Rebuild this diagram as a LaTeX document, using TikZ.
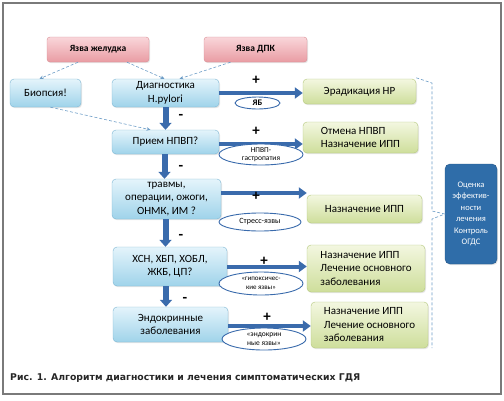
\documentclass[tikz,border=0pt]{standalone}
\usepackage{fontspec}
\setmainfont{Carlito}
\newfontfamily\capfont{DejaVu Sans}
\usetikzlibrary{arrows.meta,shapes.geometric,shadows}

\definecolor{pinktop}{HTML}{F9D6DA}
\definecolor{pinkbot}{HTML}{E99CA3}
\definecolor{pinkline}{HTML}{D88E95}
\definecolor{bluetop}{HTML}{E4F4FB}
\definecolor{bluebot}{HTML}{9FD3EA}
\definecolor{blueline}{HTML}{7DB6D3}
\definecolor{greentop}{HTML}{F3F7E0}
\definecolor{greenbot}{HTML}{CEDE9B}
\definecolor{greenline}{HTML}{B3C77C}
\definecolor{ctrlblue}{HTML}{2F6DA9}
\definecolor{arrowblue}{HTML}{3A6BAC}
\definecolor{linkblue}{HTML}{6C9CC6}
\definecolor{framegray}{HTML}{7A7A7A}

\begin{document}
\begin{tikzpicture}[x=1pt,y=-1pt]
	\tikzstyle{every node}=[align=center, inner sep=1pt, font=\fontsize{11}{13.5}\selectfont]
	\tikzstyle{soft}=[drop shadow={opacity=0.2, shadow xshift=1pt, shadow yshift=-1.2pt}]
	\tikzstyle{pinkbox}=[soft, draw=pinkline, top color=pinktop, bottom color=pinkbot, rounded corners=3pt, minimum height=25, font=\bfseries\fontsize{9.5}{11}\selectfont]
	\tikzstyle{bluebox}=[soft, draw=blueline, top color=bluetop, bottom color=bluebot, rounded corners=4pt]
	\tikzstyle{greenbox}=[soft, draw=greenline, top color=greentop, bottom color=greenbot, rounded corners=4pt, align=left]
	\tikzstyle{oval}=[ellipse, draw=arrowblue, line width=0.9pt, fill=white, inner sep=0pt, font=\fontsize{7.5}{8.5}\selectfont]
	\tikzstyle{sign}=[font=\bfseries\fontsize{15}{15}\selectfont]
	\tikzstyle{bigarrow}=[draw=arrowblue, line width=4pt, -{Triangle[length=8pt,width=11pt]}]
	\tikzstyle{downarrow}=[draw=arrowblue, line width=6pt, -{Triangle[length=7pt,width=12pt]}]
	\tikzstyle{link}=[draw=linkblue, densely dashed, line width=0.6pt, -{Stealth[length=4pt,width=3.5pt]}]
	\useasboundingbox (0,0) rectangle (504,400);
	\draw[framegray, line width=1.2pt] (3,3) rectangle (501,394);
	% top row
	\node (ug) at (98,49.5) [pinkbox, minimum width=102] {Язва желудка};
	\node (ud) at (255.5,49.5) [pinkbox, minimum width=103] {Язва ДПК};
	\node (bio) at (45.5,93) [bluebox, minimum width=71, minimum height=28] {Биопсия!};
	\node (diag) at (165.5,93) [bluebox, minimum width=107, minimum height=28] {Диагностика\\H.pylori};
	% left column
	\node (nsaid) at (165.5,142) [bluebox, minimum width=107, minimum height=24] {Прием НПВП?};
	\node (trauma) at (166.5,199) [bluebox, minimum width=109, minimum height=40] {травмы,\\операции, ожоги,\\ОНМК, ИМ ?};
	\node (chron) at (170,266.5) [bluebox, minimum width=114, minimum height=39] {ХСН, ХБП, ХОБЛ,\\ЖКБ, ЦП?};
	\node (endo) at (170.5,324.5) [bluebox, minimum width=115, minimum height=35] {Эндокринные\\заболевания};
	% right column
	\node (erad) at (359.5,91.5) [greenbox, minimum width=113, minimum height=25, align=center] {Эрадикация HP};
	\node (stop) at (360.5,137.5) [greenbox, minimum width=115, minimum height=31] {Отмена НПВП\\Назначение ИПП};
	\node (ppi1) at (364.5,209) [greenbox, minimum width=115, minimum height=28, align=center] {Назначение ИПП};
	\node (ppi2) at (366,268.5) [greenbox, minimum width=118, minimum height=47] {Назначение ИПП\\Лечение основного\\заболевания};
	\node (ppi3) at (369.5,325) [greenbox, minimum width=117, minimum height=46] {Назначение ИПП\\Лечение основного\\заболевания};
	\node (ctrl) at (471,214) [soft, fill=ctrlblue, draw=ctrlblue!80!black, rounded corners=5pt, minimum width=52, minimum height=100, text=white, font=\fontsize{8.5}{11.5}\selectfont] {Оценка\\эффектив-\\ности\\лечения\\Контроль\\ОГДС};
	% thin links
	\draw[link] ([xshift=-20]ug.south) -- ([xshift=-6]bio.north);
	\draw[link] ([xshift=29]ug.south) -- ([xshift=-1]diag.north);
	\draw[link] ([xshift=-25]ud.south) -- ([xshift=14]diag.north);
	\draw[link] ([xshift=5]bio.south) -- ([xshift=-15]nsaid.north);
	% horizontal arrows
	\draw[bigarrow] (diag.east) -- (diag.east -| erad.west);
	\draw[bigarrow] ([yshift=-2]nsaid.east) -- ([yshift=-2]nsaid.east -| stop.west);
	\draw[bigarrow] ([yshift=6]trauma.east) -- ([yshift=6]trauma.east -| ppi1.west);
	\draw[bigarrow] (chron.east) -- (chron.east -| ppi2.west);
	\draw[bigarrow] ([yshift=-1.5]endo.east) -- ([yshift=-1.5]endo.east -| ppi3.west);
	% down arrows
	\draw[downarrow] (diag.south) -- (diag.south |- nsaid.north);
	\draw[downarrow] ([xshift=-1]nsaid.south) -- ([xshift=-1]nsaid.south |- trauma.north);
	\draw[downarrow] ([xshift=-1]trauma.south) -- ([xshift=-1]trauma.south |- chron.north);
	\draw[downarrow] ([xshift=-4]chron.south) -- ([xshift=-4]chron.south |- endo.north);
	% ovals
	\node (o1) at (257.5,103) [oval, minimum width=45, minimum height=12, font=\bfseries\fontsize{8.5}{9}\selectfont] {ЯБ};
	\node (o2) at (261,154.5) [oval, minimum width=84, minimum height=21] {НПВП-\\гастропатия};
	\node (o3) at (260,222) [oval, minimum width=82, minimum height=18, font=\fontsize{8}{9}\selectfont] {Стресс-язвы};
	\node (o4) at (261,283.5) [oval, minimum width=84, minimum height=23, font=\fontsize{7}{8.5}\selectfont] {«гипоксичес-\\кие язвы»};
	\node (o5) at (264,339) [oval, minimum width=84, minimum height=22] {«эндокрин\\ные язвы»};
	% signs
	\node (p1) at (256,80) [sign] {+};
	\node (p2) at (256,131) [sign] {+};
	\node (p3) at (256,196) [sign] {+};
	\node (p4) at (264,261) [sign] {+};
	\node (p5) at (267,317) [sign] {+};
	\node (m1) at (181,117) [sign] {-};
	\node (m2) at (181,168) [sign] {-};
	\node (m3) at (181,237) [sign] {-};
	\node (m4) at (185,300) [sign] {-};
	% brace to control box
	\coordinate (bt) at (432,83);
	\coordinate (bm1) at (432,211);
	\coordinate (bm2) at (432,219);
	\coordinate (bb) at (432,348);
	\draw[linkblue, densely dashed, line width=0.6pt] ([yshift=1]erad.north east) -- (bt) -- (bm1) -- (ctrl.west) -- (bm2) -- (bb);
	% caption
	\node (cap) at (10,378) [anchor=west, inner sep=0pt, text=black!85, font=\capfont\bfseries\fontsize{9.3}{10}\selectfont] {Рис. 1. Алгоритм диагностики и лечения симптоматических ГДЯ};
\end{tikzpicture}
\end{document}
